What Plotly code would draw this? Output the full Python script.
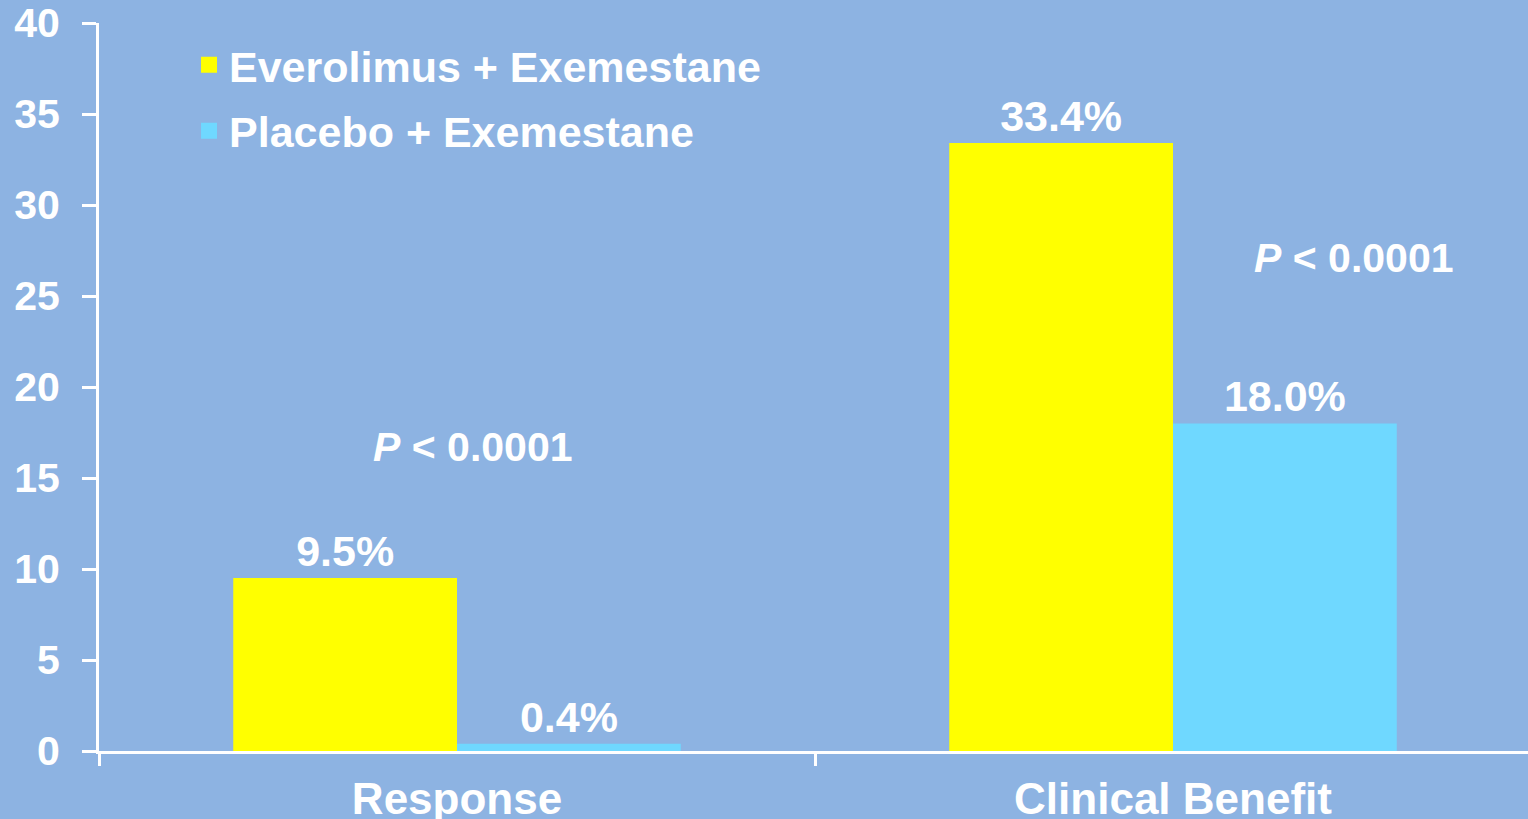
import plotly.graph_objects as go

# Tumour response outcomes by treatment arm (%)
categories = ["Response", "Clinical Benefit"]
everolimus_exemestane = [9.5, 33.4]
placebo_exemestane = [0.4, 18.0]
series_names = ["Everolimus + Exemestane", "Placebo + Exemestane"]
y_ticks = [0, 5, 10, 15, 20, 25, 30, 35, 40]
p_values = ["0.0001", "0.0001"]

BG = "#8DB3E2"
YELLOW = "#FFFF00"
CYAN = "#6FD8FF"
FONT = "Liberation Sans"

fig = go.Figure()

for vals, color in [(everolimus_exemestane, YELLOW), (placebo_exemestane, CYAN)]:
    fig.add_trace(go.Bar(
        x=categories,
        y=vals,
        marker=dict(color=color, line=dict(width=0)),
        text=[f"{v:.1f}%" for v in vals],
        textposition="outside",
        textfont=dict(family=FONT, size=43, color="white", weight="bold"),
        cliponaxis=False,
        showlegend=False,
        hoverinfo="skip",
    ))

# legend entries with larger square swatches
for i, (name, color) in enumerate(zip(series_names, [YELLOW, CYAN])):
    fig.add_trace(go.Scatter(
        x=[None], y=[None], mode="markers", name=name,
        legendgroup=f"g{i}",
        marker=dict(symbol="square", size=19, color=color, line=dict(width=0)),
    ))

# significance labels
p_positions = [(0.022, 16.7), (1.253, 27.1)]
for (px, py), p in zip(p_positions, p_values):
    fig.add_annotation(
        x=px, y=py, xref="x", yref="y",
        text=f"<i>P</i> &lt; {p}",
        showarrow=False,
        font=dict(family=FONT, size=41, color="white", weight="bold"),
    )

fig.update_layout(
    width=1528,
    height=819,
    paper_bgcolor=BG,
    plot_bgcolor=BG,
    margin=dict(l=99, r=0, t=23, b=68, autoexpand=False),
    barmode="group",
    bargap=0.375,
    bargroupgap=0,
    hovermode=False,
    legend=dict(
        x=0.063, y=0.99, xanchor="left", yanchor="top",
        font=dict(family=FONT, size=43, color="white", weight="bold"),
        bgcolor="rgba(0,0,0,0)",
        itemsizing="trace",
        traceorder="grouped",
        tracegroupgap=7,
    ),
    xaxis=dict(
        type="category",
        range=[-0.5, -0.5 + 1429 / 716],
        showline=True, linecolor="white", linewidth=3,
        ticks="outside", tickson="boundaries", ticklen=12, tickwidth=3, tickcolor="white",
        showgrid=False, zeroline=False,
        tickfont=dict(family=FONT, size=44, color="white", weight="bold"),
        ticklabelstandoff=7,
        fixedrange=True,
    ),
    yaxis=dict(
        range=[0, 40],
        tickvals=y_ticks,
        showline=True, linecolor="white", linewidth=3,
        ticks="outside", ticklen=14, tickwidth=3, tickcolor="white",
        showgrid=False, zeroline=False,
        tickfont=dict(family=FONT, size=41, color="white", weight="bold"),
        ticklabelstandoff=14,
        fixedrange=True,
    ),
)

fig.write_html("out.html", config={"displayModeBar": False})
